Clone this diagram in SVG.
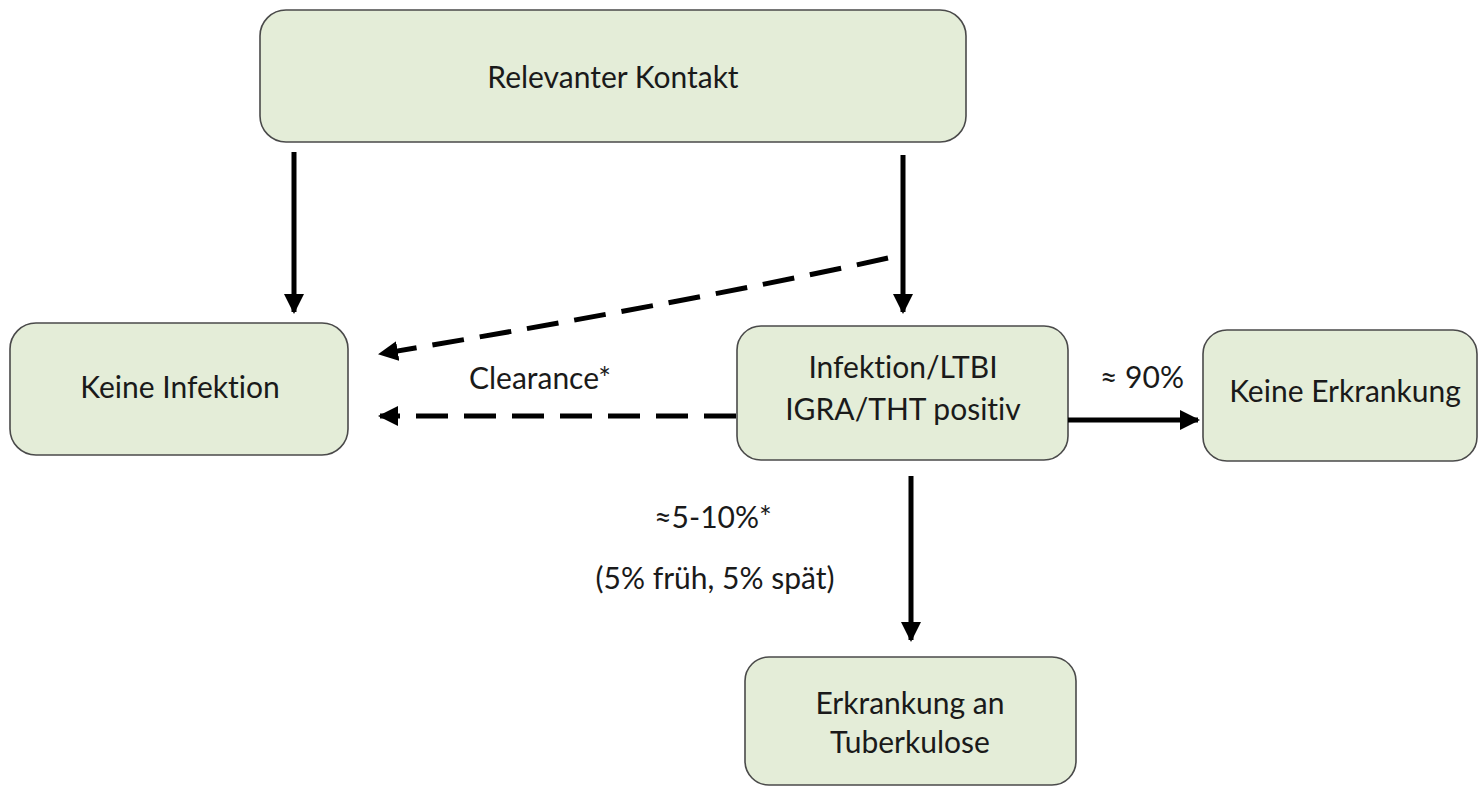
<svg xmlns="http://www.w3.org/2000/svg" width="1479" height="787" viewBox="0 0 1479 787">
<defs>
<style>
.box{fill:#e4edd8;stroke:#4a4a4a;stroke-width:1.6}
.t{font-family:Lato,"Open Sans",sans-serif;font-size:30px;fill:#1a1a1a;text-anchor:middle;font-variant-ligatures:none;font-feature-settings:"liga" 0}
.s{stroke:#000;stroke-width:5;fill:none}
.d{stroke:#000;stroke-width:5;fill:none;stroke-dasharray:32 16}
</style>
<marker id="ah" viewBox="0 0 10 10" refX="9" refY="5" markerWidth="4" markerHeight="4" orient="auto" markerUnits="strokeWidth">
<path d="M0,0 L10,5 L0,10 z" fill="#000"/>
</marker>
</defs>
<rect width="1479" height="787" fill="#fff"/>
<g id="n-kontakt"><rect class="box" x="260" y="10" width="706" height="132" rx="26"/><text class="t" x="613" y="88">Relevanter Kontakt</text></g>
<g id="n-keineinf"><rect class="box" x="10" y="323" width="338" height="132" rx="26"/><text class="t" x="180" y="398">Keine Infektion</text></g>
<g id="n-ltbi"><rect class="box" x="737" y="326" width="331" height="134" rx="24"/><text class="t" x="903" y="378">Infektion/LTBI</text><text class="t" x="903" y="420">IGRA/THT positiv</text></g>
<g id="n-keineerk"><rect class="box" x="1203" y="330" width="274" height="131" rx="24"/><text class="t" x="1345" y="402">Keine Erkrankung</text></g>
<g id="n-tb"><rect class="box" x="745" y="657" width="331" height="128" rx="24"/><text class="t" x="910" y="714">Erkrankung an</text><text class="t" x="910" y="753">Tuberkulose</text></g>
<g id="connectors">
<path class="s" d="M294,152 V312" marker-end="url(#ah)"/>
<path class="s" d="M903,155 V312" marker-end="url(#ah)"/>
<path class="d" d="M888,258 Q700,300 380,354" marker-end="url(#ah)"/>
<path class="d" d="M736,416 H380" marker-end="url(#ah)"/>
<path class="s" d="M1068,420 H1198" marker-end="url(#ah)"/>
<path class="s" d="M911,476 V640" marker-end="url(#ah)"/>
<text class="t" x="540" y="389">Clearance*</text>
<text class="t" x="1142" y="388">≈ 90%</text>
<text class="t" x="713" y="528">≈5-10%*</text>
<text class="t" x="715" y="589">(5% früh, 5% spät)</text>
</g>
</svg>
